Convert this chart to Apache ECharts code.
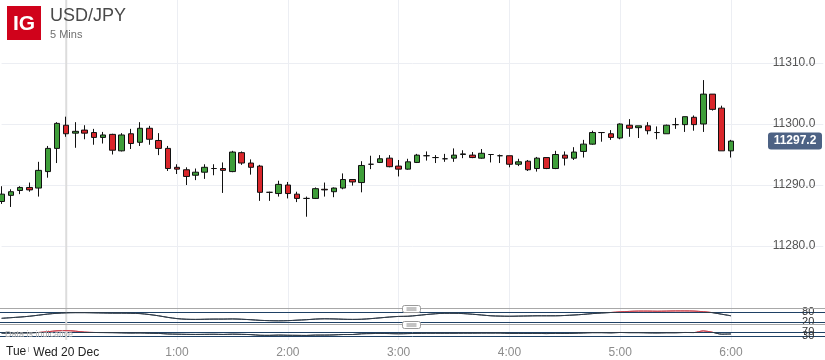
<!DOCTYPE html>
<html><head><meta charset="utf-8">
<script src="https://cdn.jsdelivr.net/npm/echarts@6/dist/echarts.min.js"></script>
<style>html,body{margin:0;padding:0;background:#fff}#c{width:825px;height:360px}</style>
</head><body><div id="c"></div>
<script>
// ---- data ----
const times = ['23:25','23:30','23:35','23:40','23:45','23:50','23:55',
 '0:00','0:05','0:10','0:15','0:20','0:25','0:30','0:35','0:40','0:45','0:50','0:55',
 '1:00','1:05','1:10','1:15','1:20','1:25','1:30','1:35','1:40','1:45','1:50','1:55',
 '2:00','2:05','2:10','2:15','2:20','2:25','2:30','2:35','2:40','2:45','2:50','2:55',
 '3:00','3:05','3:10','3:15','3:20','3:25','3:30','3:35','3:40','3:45','3:50','3:55',
 '4:00','4:05','4:10','4:15','4:20','4:25','4:30','4:35','4:40','4:45','4:50','4:55',
 '5:00','5:05','5:10','5:15','5:20','5:25','5:30','5:35','5:40','5:45','5:50','5:55',
 '6:00'];
const padTimes = ['6:05','6:10','6:15','6:20','6:25','6:30','6:35','6:40','6:45','6:50'];
const open  = [11287.3,11288.3,11289.1,11289.6,11289.5,11292.2,11296.0,11299.8,11298.5,11299.0,
 11298.6,11297.8,11298.3,11295.6,11298.4,11297.0,11299.3,11297.3,11296.0,11292.9,
 11292.5,11291.6,11292.1,11292.7,11292.7,11292.2,11295.3,11293.6,11293.1,11288.8,
 11288.6,11290.0,11288.5,11287.8,11287.8,11289.3,11288.9,11289.5,11290.9,11290.4,
 11293.4,11293.7,11294.4,11293.1,11292.6,11293.7,11294.8,11294.5,11294.3,11294.4,
 11295.0,11294.9,11294.4,11295.0,11294.8,11294.8,11293.4,11293.9,11292.7,11294.5,
 11292.7,11294.9,11294.4,11295.5,11296.7,11298.6,11298.4,11297.7,11299.8,11299.4,
 11299.7,11298.6,11298.4,11299.9,11299.9,11301.1,11300.0,11304.9,11302.6,11295.6];
const close = [11288.5,11288.9,11289.6,11289.2,11292.4,11296.0,11300.1,11298.4,11298.8,11298.5,
 11297.8,11298.2,11295.7,11298.2,11296.8,11299.3,11297.5,11296.0,11292.7,11292.6,
 11291.4,11292.1,11292.9,11292.7,11292.4,11295.4,11293.6,11292.9,11288.8,11288.8,
 11290.1,11288.6,11287.8,11287.8,11289.4,11289.2,11289.5,11290.9,11290.5,11293.2,
 11293.4,11294.3,11293.0,11292.6,11293.8,11294.9,11294.8,11294.5,11294.3,11294.9,
 11295.1,11294.5,11295.2,11295.0,11294.8,11293.4,11293.8,11292.5,11294.4,11292.7,
 11295.0,11294.4,11295.4,11296.7,11298.6,11298.6,11297.8,11300.0,11299.3,11299.7,
 11298.9,11298.6,11299.8,11299.9,11301.2,11299.9,11304.9,11302.4,11295.6,11297.2];
const low   = [11286.9,11286.4,11288.5,11288.9,11288.1,11291.2,11293.6,11297.9,11296.1,11297.5,
 11296.6,11296.8,11295.0,11295.5,11295.9,11296.4,11296.6,11294.9,11292.3,11291.8,
 11290.0,11290.8,11291.0,11291.6,11288.7,11292.1,11293.3,11291.7,11287.4,11287.4,
 11288.1,11287.8,11287.2,11284.8,11287.7,11288.1,11288.0,11289.3,11289.9,11288.8,
 11292.6,11293.6,11292.9,11291.4,11292.5,11293.6,11294.0,11293.6,11293.8,11293.8,
 11294.4,11294.4,11294.3,11293.7,11293.6,11292.9,11293.1,11292.3,11292.2,11292.6,
 11292.6,11293.2,11294.1,11294.5,11296.6,11297.1,11297.4,11297.5,11297.9,11297.7,
 11298.3,11297.5,11298.4,11299.2,11298.7,11298.9,11298.7,11302.2,11295.6,11294.5];
const high  = [11289.8,11289.3,11289.8,11290.4,11293.8,11296.4,11300.3,11301.2,11300.3,11299.8,
 11299.2,11298.7,11298.4,11298.5,11299.2,11300.3,11299.7,11298.5,11296.4,11293.4,
 11292.9,11292.7,11293.4,11293.4,11293.7,11295.6,11295.5,11294.2,11293.3,11288.9,
 11290.7,11290.5,11288.9,11288.1,11289.6,11290.4,11289.6,11291.9,11290.9,11293.9,
 11294.8,11294.9,11294.9,11294.1,11294.3,11295.1,11295.5,11294.9,11295.1,11296.0,
 11295.7,11295.4,11295.9,11295.0,11295.0,11294.8,11294.3,11294.1,11294.6,11294.5,
 11295.6,11295.5,11296.2,11297.4,11298.9,11298.6,11299.0,11300.1,11300.8,11299.7,
 11300.3,11299.6,11299.9,11301.0,11301.2,11301.4,11307.2,11304.9,11303.0,11297.4];
const stoch = [42,46,50,55,62,69,74,77,78,78,77,76,75,75,74,72,66,58,48,40,
 36,35,36,37,37,38,36,33,29,27,26,27,30,33,37,39,38,36,35,36,
 40,45,50,54,55,60,66,71,74,74,72,68,63,58,56,55,56,57,58,58,
 58,60,63,67,72,76,79,83,86,88,88,87,88,89,89,88,84,78,68,58];
const rsi = [60,62,63,64,68,76,86,88,82,72,68,67,66,64,62,63,60,58,52,50,
 48,47,48,49,47,50,48,45,38,37,40,38,37,36,40,40,42,46,46,54,
 56,58,56,54,56,58,60,60,60,60,61,61,62,62,62,58,58,57,58,56,
 58,57,60,63,66,66,64,68,66,66,64,63,65,65,68,67,85,70,50,52];
const priceTicks = [11280, 11310, 10];   // min, max, step
const stochLevels = [80, 20];
const rsiLevels = [70, 30];
const instrument = 'USD/JPY';
const period = '5 Mins';
const dayLabel = 'Wed 20 Dec';
const prevDayLabel = 'Tue';

// ---- chart ----
const cats = times.concat(padTimes);
const ohlc = open.map((o, i) => [o, close[i], low[i], high[i]]);
const FONT = '"Liberation Sans", Arial, sans-serif';
const L = 1.6, R = 1.7;
const isHour = (v) => /:00$/.test(v) && times.indexOf(v) >= 0;
const RED_LINE = '#c9414c', DARK_LINE = '#2f3b48';

function xAx(gi, extra) {
  return Object.assign({
    type: 'category', gridIndex: gi, data: cats, boundaryGap: false,
    axisLine: {show: false}, axisTick: {show: false}, axisLabel: {show: false},
    splitLine: {show: false}
  }, extra || {});
}

const chart = echarts.init(document.getElementById('c'), null, {renderer: 'canvas'});
const option = {
  animation: false,
  textStyle: {fontFamily: FONT},
  grid: [
    {left: L, right: R, top: 0, height: 340},
    {left: L, right: R, top: 63, height: 183},
    {left: L, right: R, top: 309.2, height: 15.7},
    {left: L, right: R, top: 329.5, height: 9.3}
  ],
  xAxis: [
    xAx(0, {
      axisLabel: {
        show: true, margin: 7, fontSize: 12, color: '#8c8c8c', fontFamily: FONT,
        interval: (i, v) => isHour(v),
        formatter: (v) => v === '0:00' ? '{d|' + dayLabel + '}' : v,
        rich: {d: {color: '#222', fontSize: 12, fontFamily: FONT}}
      },
      splitLine: {show: true, interval: (i, v) => isHour(v) && v !== '0:00',
        lineStyle: {color: '#eceef3', width: 1}}
    }),
    xAx(1), xAx(2), xAx(3)
  ],
  yAxis: [
    {type: 'value', gridIndex: 0, min: 0, max: 1, show: false},
    {type: 'value', gridIndex: 1, position: 'right', min: priceTicks[0], max: priceTicks[1], interval: priceTicks[2],
      axisLine: {show: false}, axisTick: {show: false},
      axisLabel: {inside: true, margin: 8, fontSize: 12, color: '#555', fontFamily: FONT,
        formatter: (v) => v.toFixed(1)},
      splitLine: {show: true, lineStyle: {color: '#eceef3'}}},
    {type: 'value', gridIndex: 2, position: 'right', min: 0, max: 100, interval: 10,
      axisLine: {show: false}, axisTick: {show: false}, splitLine: {show: false},
      axisLabel: {inside: true, margin: 9, fontSize: 11, color: '#333', fontFamily: FONT,
        formatter: (v) => stochLevels.indexOf(v) >= 0 ? String(v) : ''}},
    {type: 'value', gridIndex: 3, position: 'right', min: 0, max: 100, interval: 10,
      axisLine: {show: false}, axisTick: {show: false}, splitLine: {show: false},
      axisLabel: {inside: true, margin: 9, fontSize: 11, color: '#333', fontFamily: FONT,
        formatter: (v) => rsiLevels.indexOf(v) >= 0 ? String(v) : ''}}
  ],
  visualMap: [
    {show: false, type: 'piecewise', seriesIndex: 1, dimension: 1,
      pieces: [{min: 80, max: 100, color: RED_LINE}, {min: 0, max: 80, color: DARK_LINE}]},
    {show: false, type: 'piecewise', seriesIndex: 2, dimension: 1,
      pieces: [{min: 70, max: 100, color: RED_LINE}, {min: 0, max: 70, color: DARK_LINE}]}
  ],
  series: [
    {type: 'candlestick', xAxisIndex: 1, yAxisIndex: 1, data: ohlc, barWidth: 6,
      itemStyle: {color: '#3f9e3a', color0: '#d9262b', borderColor: '#111', borderColor0: '#111', borderWidth: 1}},
    {type: 'line', xAxisIndex: 2, yAxisIndex: 2, data: stoch, showSymbol: false, smooth: 0.3,
      lineStyle: {width: 1}, z: 3},
    {type: 'line', xAxisIndex: 3, yAxisIndex: 3, data: rsi, showSymbol: false, smooth: 0.3,
      lineStyle: {width: 1}, z: 3}
  ]
};
try { chart.setOption(option); } catch (e) { console.log('setOption: ' + e.message); }

// overlays positioned through the chart's own scales
function levelLines(yAxisIndex, levels) {
  return levels.map(v => {
    const y = Math.round(chart.convertToPixel({yAxisIndex: yAxisIndex}, v)) + 0.5;
    return {type: 'line', z: 0, shape: {x1: 0, y1: y, x2: 825, y2: y}, style: {stroke: '#1f4165', lineWidth: 1}};
  });
}
function handle(x, y) {
  return {type: 'group', x: x, y: y, z: 20, children: [
    {type: 'rect', z: 20, shape: {x: 0, y: 0, width: 18, height: 7, r: 2}, style: {fill: '#fff', stroke: '#9a9a9a', lineWidth: 1}},
    {type: 'line', z: 21, shape: {x1: 4, y1: 2.5, x2: 14, y2: 2.5}, style: {stroke: '#888', lineWidth: 1}},
    {type: 'line', z: 21, shape: {x1: 4, y1: 4.5, x2: 14, y2: 4.5}, style: {stroke: '#888', lineWidth: 1}}
  ]};
}
try {
  const dayX = chart.convertToPixel({xAxisIndex: 0}, '0:00');
  const lastClose = close[close.length - 1];
  const lastY = chart.convertToPixel({yAxisIndex: 1}, lastClose);
  chart.setOption({graphic: [].concat(
    levelLines(2, stochLevels), levelLines(3, rsiLevels), [
    {type: 'line', z: 0, shape: {x1: dayX, y1: 0, x2: dayX, y2: 340}, style: {stroke: '#dcdcdc', lineWidth: 2}},
    {type: 'line', z: 5, shape: {x1: 0, y1: 308.5, x2: 825, y2: 308.5}, style: {stroke: '#a8a8a8', lineWidth: 1}},
    {type: 'line', z: 5, shape: {x1: 0, y1: 324.5, x2: 825, y2: 324.5}, style: {stroke: '#a8a8a8', lineWidth: 1}},
    handle(402.5, 305.5),
    handle(402.5, 321.5),
    {type: 'text', z: 4, x: 5, y: 330, style: {text: 'Data is indicative', font: '9px ' + FONT, fill: '#b5b5b5'}},
    {type: 'rect', z: 10, shape: {x: 7, y: 6, width: 34, height: 34}, style: {fill: '#d0021b'}},
    {type: 'text', z: 11, x: 24, y: 24, style: {text: 'IG', font: 'bold 21px ' + FONT, fill: '#fff', align: 'center', verticalAlign: 'middle'}},
    {type: 'text', z: 11, x: 50, y: 7, style: {text: instrument, font: '18px ' + FONT, fill: '#4a4a4a'}},
    {type: 'text', z: 11, x: 50, y: 29, style: {text: period, font: '11px ' + FONT, fill: '#707070'}},
    {type: 'text', z: 11, x: 6, y: 346, style: {text: prevDayLabel, font: '12px ' + FONT, fill: '#222'}},
    {type: 'line', z: 11, shape: {x1: 28.5, y1: 347, x2: 28.5, y2: 352}, style: {stroke: '#bbb', lineWidth: 1}},
    {type: 'rect', z: 12, shape: {x: 768, y: lastY - 8.5, width: 54, height: 17, r: 3}, style: {fill: '#4d6284'}},
    {type: 'text', z: 13, x: 795, y: lastY, style: {text: lastClose.toFixed(1), font: 'bold 12px ' + FONT, fill: '#fff', align: 'center', verticalAlign: 'middle'}}
  ])});
} catch (e) { console.log('graphic: ' + e.message); }
</script></body></html>
